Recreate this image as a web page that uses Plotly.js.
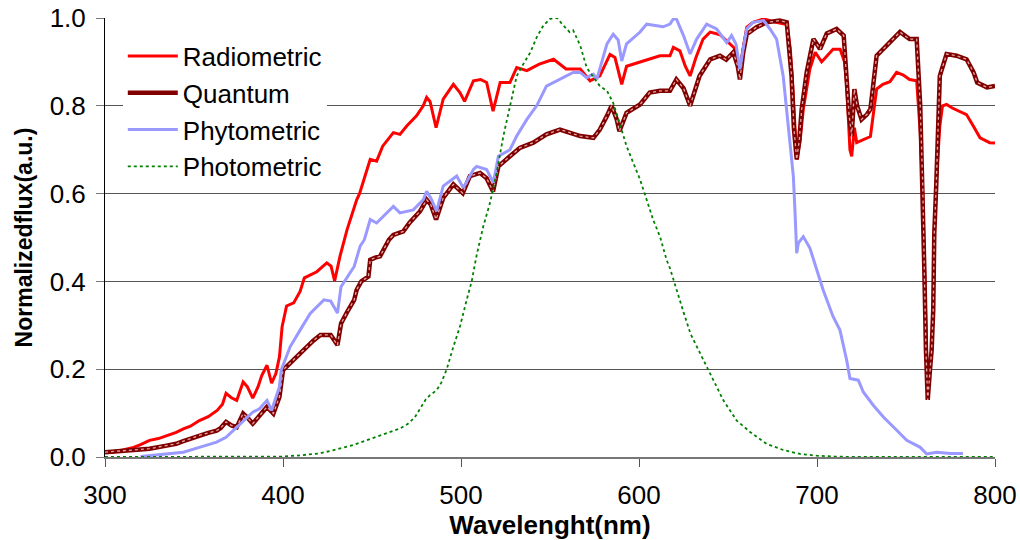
<!DOCTYPE html>
<html>
<head>
<meta charset="utf-8">
<script src="https://cdn.plot.ly/plotly-3.0.1.min.js"></script>
<style>html,body{margin:0;padding:0;background:#fff;}#chart{width:1020px;height:540px;}</style>
</head>
<body>
<div id="chart"></div>
<script>
// Radiometric
const radWl = [300,305,310,316,320,325,330,335,340,344,348,353,358,363,366,368,371,374,377.6,380,383,386,388,391,393.6,396,398,399.5,402,406,409.6,412,416,419,424.6,427,429,432,436,441.4,443,447,449,452.6,456,462,465.7,469.5,475,478.8,480.7,482.6,486,490,495.7,499.4,502,507,511,514.4,518,522,527.5,531.3,537,544,552,559,567,572.5,578,583.7,586.5,590.3,593,602.4,611.8,617.4,619.3,623,626,628.7,632,636,640,645.5,651,654,656.7,658.5,660.5,664,670,677,683,685,686.7,688.6,690.5,692.3,696,699,702.6,709,713,715.5,716.7,718.5,719.5,721,722.3,726,730,733.5,737,741,744.7,748.5,752,756,758,759.4,760.3,761.2,762.2,763,764.4,765.3,765.9,767,769,770.5,772.8,776,780,784,787.8,791.6,795,797,800];
const radVal = [0.011,0.012,0.016,0.022,0.028,0.038,0.042,0.049,0.056,0.064,0.07,0.083,0.092,0.106,0.12,0.145,0.135,0.129,0.171,0.16,0.134,0.16,0.185,0.209,0.168,0.19,0.228,0.297,0.344,0.351,0.377,0.408,0.415,0.422,0.442,0.435,0.401,0.457,0.518,0.586,0.60,0.655,0.678,0.674,0.708,0.739,0.735,0.754,0.777,0.80,0.819,0.81,0.75,0.815,0.849,0.83,0.81,0.857,0.86,0.853,0.788,0.853,0.853,0.887,0.88,0.895,0.906,0.884,0.884,0.857,0.868,0.917,0.91,0.849,0.89,0.902,0.914,0.914,0.933,0.925,0.89,0.868,0.91,0.952,0.968,0.962,0.941,0.93,0.87,0.93,0.979,0.99,0.998,0.99,0.985,0.93,0.822,0.678,0.72,0.792,0.884,0.922,0.9,0.929,0.929,0.9,0.845,0.70,0.685,0.75,0.716,0.723,0.73,0.838,0.849,0.855,0.876,0.87,0.86,0.857,0.739,0.6,0.426,0.243,0.13,0.2,0.243,0.335,0.51,0.625,0.754,0.80,0.803,0.795,0.788,0.78,0.754,0.727,0.72,0.716,0.715];

// Quantum
const quaWl = [300,310,316,325,334.6,340,344,348,353,358,362.7,365,368,371,374,377.6,380,383,387,391,394.6,398,400,403,405.8,410,413.5,417,421,426.8,430.6,432.6,436,440,441.4,444,448,449,451.8,454.5,459.5,462,467.6,471,477,480.7,483,486,490,495.7,501,505,510.7,514.4,518,521,527.5,533,540.6,548,555.6,561,567,574.4,578,582,584.6,587.5,589,593,600.6,606,611.8,617.4,621,625,628.7,634,640,645.5,649,653,655.5,656.7,658.5,660.5,666,671.7,679,683,685.7,687,688.6,690,691.4,694.2,698,700,701.7,705.5,711,715,716.7,718,719.5,721,722.5,725,728,730,733.5,739,746.6,752,756,758,759.4,760.3,761.2,762.2,763.5,764.4,765.3,765.9,767,768,769,772.8,778.4,784,788,790,795.5,800];
const quaVal = [0.011,0.014,0.017,0.019,0.026,0.03,0.036,0.042,0.049,0.055,0.06,0.066,0.08,0.072,0.068,0.099,0.09,0.076,0.095,0.114,0.099,0.137,0.198,0.21,0.221,0.236,0.251,0.265,0.278,0.278,0.255,0.304,0.33,0.358,0.381,0.40,0.411,0.449,0.454,0.457,0.495,0.506,0.514,0.533,0.56,0.586,0.575,0.541,0.59,0.621,0.601,0.64,0.647,0.635,0.605,0.662,0.685,0.704,0.716,0.735,0.746,0.739,0.731,0.727,0.746,0.777,0.80,0.769,0.742,0.784,0.803,0.83,0.834,0.834,0.86,0.84,0.80,0.868,0.906,0.914,0.905,0.922,0.89,0.86,0.92,0.963,0.979,0.99,0.994,0.99,0.868,0.75,0.678,0.72,0.792,0.876,0.952,0.94,0.929,0.965,0.975,0.96,0.845,0.78,0.731,0.838,0.80,0.769,0.78,0.792,0.914,0.937,0.968,0.952,0.952,0.80,0.62,0.426,0.243,0.13,0.2,0.243,0.335,0.51,0.62,0.75,0.868,0.918,0.914,0.906,0.876,0.853,0.842,0.845];

// Phytometric
const phyWl = [320,325,334.6,344,353,362.7,368,372,377.6,383,386.8,391,393.6,398,399,404,409.6,415.3,423,426.8,430.6,432.6,440,443.3,445.7,449,452.6,456.4,462,465.7,473.2,478.8,480.7,483,486.3,490,497.6,501.3,507,508.8,514.4,518.2,521,527.5,531.3,537,542.5,548,555.6,563,567,570.6,574.4,576.3,582,585.5,588.3,590.3,593,600.6,604.3,608,613.6,617.4,619.3,621,625,628.7,632.4,638,643.6,649.3,652,654.5,656.7,658.5,660.5,664,670,673.6,677.3,681,683.9,685.7,686.7,687.6,688.6,689.5,692.3,696,699.8,703.5,709,712.9,716.7,718.5,723.2,726,731.6,737.3,744.8,750.4,758,761.6,767.2,775,782];
const phyVal = [0.001,0.003,0.006,0.011,0.022,0.034,0.045,0.06,0.08,0.102,0.11,0.129,0.106,0.16,0.198,0.251,0.289,0.327,0.358,0.355,0.328,0.388,0.434,0.48,0.495,0.541,0.533,0.548,0.571,0.556,0.563,0.586,0.605,0.59,0.56,0.617,0.64,0.613,0.655,0.662,0.655,0.625,0.685,0.70,0.731,0.769,0.80,0.845,0.86,0.876,0.876,0.864,0.872,0.86,0.941,0.963,0.95,0.902,0.941,0.968,0.986,0.983,0.98,0.986,0.998,0.998,0.96,0.918,0.952,0.986,0.975,0.944,0.96,0.94,0.883,0.93,0.975,0.99,0.994,0.975,0.952,0.868,0.754,0.68,0.64,0.563,0.464,0.487,0.502,0.476,0.426,0.38,0.32,0.289,0.22,0.179,0.175,0.148,0.118,0.091,0.061,0.038,0.022,0.007,0.011,0.008,0.008];

// Photometric
const phoWl = [300,380,400,410,420,428,435,440,447,452,458,465.7,470,474,477,480,482.6,486.3,489,492,495.7,499.4,503.2,506,508.8,512.5,516.3,520,523.8,527.5,531.3,535,539,542.5,546.3,550,554,557.5,561,563,567,570.6,574.4,578,582,585.5,589,593,596.8,600.6,604.3,608,611.8,615.5,617.4,621,625,629,634.3,640,647.4,654.9,662.4,671.7,681,690.4,699.8,710,720,800];
const phoVal = [0,0,0.001,0.004,0.008,0.015,0.022,0.028,0.038,0.045,0.053,0.065,0.075,0.09,0.11,0.13,0.141,0.152,0.17,0.2,0.251,0.297,0.358,0.40,0.46,0.525,0.579,0.647,0.731,0.80,0.868,0.895,0.922,0.956,0.983,0.998,1.0,0.983,0.968,0.972,0.937,0.887,0.864,0.845,0.834,0.807,0.762,0.708,0.67,0.632,0.586,0.54,0.502,0.449,0.43,0.38,0.33,0.28,0.236,0.19,0.129,0.083,0.057,0.03,0.016,0.007,0.003,0.001,0,0];

const seriesNames = ['Radiometric','Quantum','Phytometric','Photometric'];
const yTickVals = [0,0.2,0.4,0.6,0.8,1.0];
const xTickVals = [300,400,500,600,700,800];

const FONT = 'Arial, "Liberation Sans", sans-serif';

const traces = [
  {x: radWl, y: radVal, name: seriesNames[0], mode: 'lines', legendgroup: 'a', line: {color: '#FF0000', width: 3}},
  {x: quaWl, y: quaVal, name: seriesNames[1], mode: 'lines', legendgroup: 'b', line: {color: '#800000', width: 4.5}},
  {x: quaWl, y: quaVal, name: seriesNames[1], mode: 'lines', legendgroup: 'b', showlegend: false, hoverinfo: 'skip', line: {color: '#e0a8a8', width: 1.3, dash: 'dot'}},
  {x: phyWl, y: phyVal, name: seriesNames[2], mode: 'lines', legendgroup: 'c', line: {color: '#9999FF', width: 3}},
  {x: phoWl, y: phoVal, name: seriesNames[3], mode: 'lines', legendgroup: 'd', line: {color: '#008000', width: 1.8, dash: 'dot'}}
];

const layout = {
  width: 1020, height: 540,
  margin: {l: 105, r: 25, t: 18, b: 83},
  paper_bgcolor: '#fff', plot_bgcolor: '#fff',
  font: {family: FONT, size: 26, color: '#000'},
  showlegend: true,
  legend: {x: 0.02, y: 0.967, xanchor: 'left', yanchor: 'top', bgcolor: '#fff', borderwidth: 0,
           traceorder: 'grouped', tracegroupgap: 0, itemwidth: 50,
           font: {family: FONT, size: 26, color: '#000'}},
  xaxis: {
    range: [300, 800], tickvals: xTickVals, ticktext: xTickVals.map(String),
    showgrid: false, zeroline: false, showline: true, linecolor: '#777', linewidth: 1.5,
    ticks: 'outside', ticklen: 8, tickcolor: '#555', tickwidth: 1, ticklabelstandoff: 6,
    tickfont: {family: FONT, size: 26},
    title: {text: '<b>Wavelenght(nm)</b>', font: {family: FONT, size: 26}, standoff: 6}
  },
  yaxis: {
    range: [0, 1], tickvals: yTickVals, ticktext: yTickVals.map(v => v.toFixed(1)),
    showgrid: true, gridcolor: '#555', gridwidth: 1.2, zeroline: false,
    showline: true, linecolor: '#000', linewidth: 1,
    ticks: 'outside', ticklen: 8, tickcolor: '#777', tickwidth: 1, ticklabelstandoff: 5,
    tickfont: {family: FONT, size: 26},
    title: {text: '<b>Normalizedflux(a.u.)</b>', font: {family: FONT, size: 23}, standoff: 10}
  }
};

Plotly.newPlot('chart', traces, layout, {displayModeBar: false, staticPlot: true});
</script>
</body>
</html>
